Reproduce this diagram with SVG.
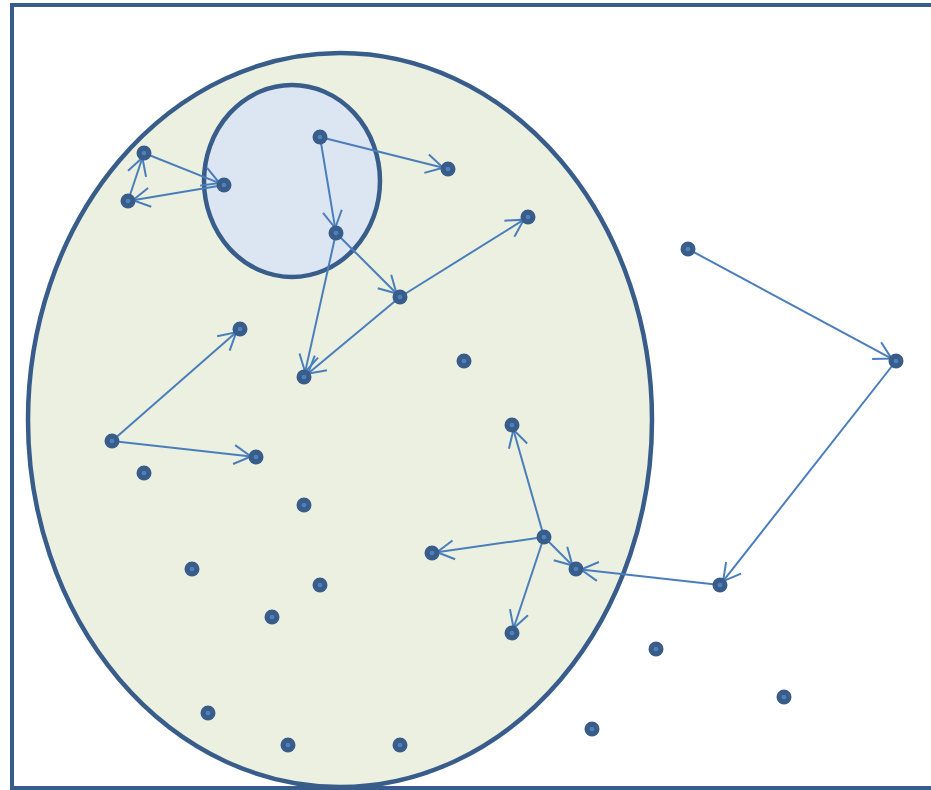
<svg xmlns="http://www.w3.org/2000/svg" width="931" height="790" viewBox="0 0 931 790">
<style>
.frame{fill:#ffffff;stroke:#385d8a;stroke-width:4}
.big{fill:#ebf0e0;stroke:#385d8a;stroke-width:4.5}
.small{fill:#dce6f2;stroke:#385d8a;stroke-width:4.5}
.dot{fill:#385d8a}
.core{fill:#4f81bd}
.edge{stroke:#4a7ebb;stroke-width:2;fill:none;marker-end:url(#ah)}
</style>
<defs>
<marker id="ah" viewBox="0 0 22 22" refX="19" refY="11" markerWidth="22" markerHeight="22" markerUnits="userSpaceOnUse" orient="auto">
<path d="M2,1.5 L19,11 L2,20.5" fill="none" stroke="#4a7ebb" stroke-width="2"/>
</marker>
<g id="d"><circle r="7.5" class="dot"/><circle r="2.3" class="core"/></g>
</defs>
<rect class="frame" x="12" y="5" width="930" height="783"/>
<ellipse class="big" cx="340" cy="420" rx="312" ry="367"/>
<ellipse class="small" cx="292" cy="181" rx="88" ry="96"/>
<g id="connectors">
<line class="edge" x1="144" y1="153" x2="219.4" y2="183.1"/>
<line class="edge" x1="224" y1="185" x2="132.9" y2="200.2"/>
<line class="edge" x1="128" y1="201" x2="142.4" y2="157.7"/>
<line class="edge" x1="320" y1="137" x2="443.1" y2="167.8"/>
<line class="edge" x1="320" y1="137" x2="335.2" y2="228.1"/>
<line class="edge" x1="336" y1="233" x2="305.1" y2="372.1"/>
<line class="edge" x1="336" y1="233" x2="396.5" y2="293.5"/>
<line class="edge" x1="400" y1="297" x2="523.8" y2="219.7"/>
<line class="edge" x1="400" y1="297" x2="307.8" y2="373.8"/>
<line class="edge" x1="112" y1="441" x2="236.2" y2="332.3"/>
<line class="edge" x1="112" y1="441" x2="251" y2="456.4"/>
<line class="edge" x1="688" y1="249" x2="891.6" y2="358.6"/>
<line class="edge" x1="896" y1="361" x2="723.1" y2="581.1"/>
<line class="edge" x1="720" y1="585" x2="581" y2="569.6"/>
<line class="edge" x1="544" y1="537" x2="572.5" y2="565.5"/>
<line class="edge" x1="544" y1="537" x2="437" y2="552.3"/>
<line class="edge" x1="544" y1="537" x2="513.6" y2="628.3"/>
<line class="edge" x1="544" y1="537" x2="513.4" y2="429.8"/>
</g>
<g id="n1"><use href="#d" x="144" y="153"/></g>
<g id="n2"><use href="#d" x="224" y="185"/></g>
<g id="n3"><use href="#d" x="128" y="201"/></g>
<g id="n4"><use href="#d" x="320" y="137"/></g>
<g id="n5"><use href="#d" x="448" y="169"/></g>
<g id="n6"><use href="#d" x="336" y="233"/></g>
<g id="n7"><use href="#d" x="528" y="217"/></g>
<g id="n8"><use href="#d" x="400" y="297"/></g>
<g id="n9"><use href="#d" x="304" y="377"/></g>
<g id="n10"><use href="#d" x="240" y="329"/></g>
<g id="n11"><use href="#d" x="112" y="441"/></g>
<g id="n12"><use href="#d" x="256" y="457"/></g>
<g id="n13"><use href="#d" x="688" y="249"/></g>
<g id="n14"><use href="#d" x="896" y="361"/></g>
<g id="n15"><use href="#d" x="720" y="585"/></g>
<g id="n16"><use href="#d" x="576" y="569"/></g>
<g id="n17"><use href="#d" x="544" y="537"/></g>
<g id="n18"><use href="#d" x="432" y="553"/></g>
<g id="n19"><use href="#d" x="512" y="633"/></g>
<g id="n20"><use href="#d" x="512" y="425"/></g>
<g id="n21"><use href="#d" x="464" y="361"/></g>
<g id="n22"><use href="#d" x="144" y="473"/></g>
<g id="n23"><use href="#d" x="304" y="505"/></g>
<g id="n24"><use href="#d" x="192" y="569"/></g>
<g id="n25"><use href="#d" x="320" y="585"/></g>
<g id="n26"><use href="#d" x="272" y="617"/></g>
<g id="n27"><use href="#d" x="208" y="713"/></g>
<g id="n28"><use href="#d" x="288" y="745"/></g>
<g id="n29"><use href="#d" x="400" y="745"/></g>
<g id="n30"><use href="#d" x="656" y="649"/></g>
<g id="n31"><use href="#d" x="592" y="729"/></g>
<g id="n32"><use href="#d" x="784" y="697"/></g>
</svg>
